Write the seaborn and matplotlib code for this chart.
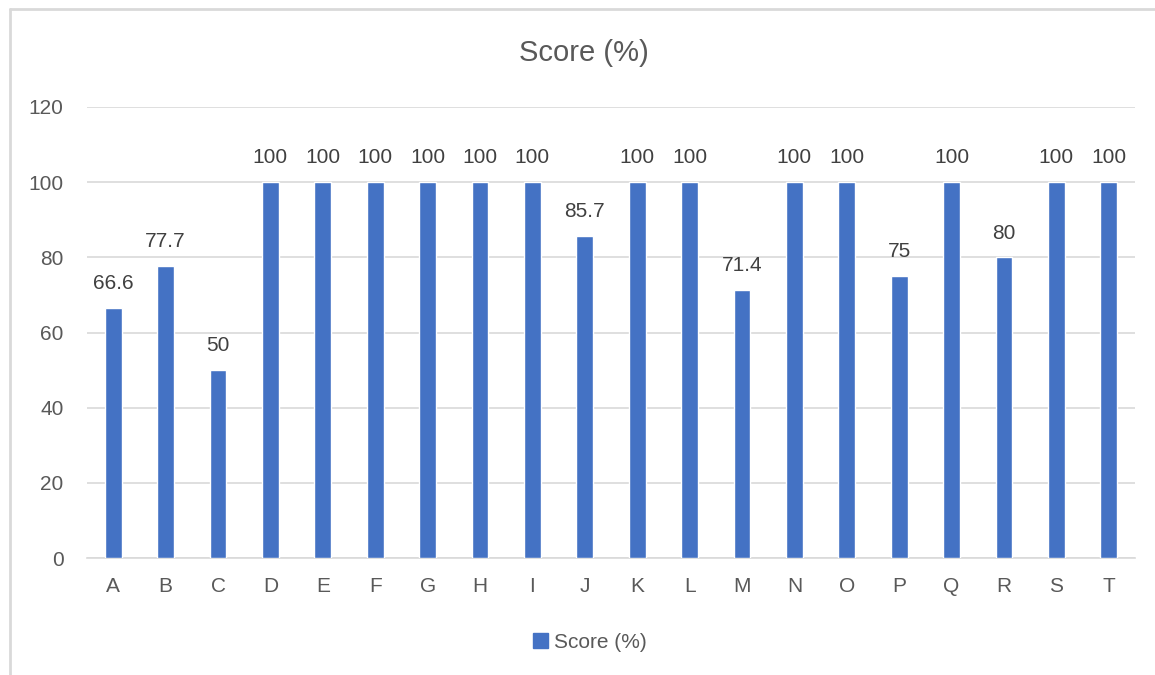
import matplotlib
matplotlib.use("Agg")
import matplotlib.pyplot as plt
import seaborn as sns
import pandas as pd
from matplotlib.lines import Line2D
from matplotlib.patches import Patch

categories = list("ABCDEFGHIJKLMNOPQRST")
scores = [66.6, 77.7, 50, 100, 100, 100, 100, 100, 100, 85.7,
          100, 100, 71.4, 100, 100, 75, 100, 80, 100, 100]
labels = ["66.6", "77.7", "50", "100", "100", "100", "100", "100", "100", "85.7",
          "100", "100", "71.4", "100", "100", "75", "100", "80", "100", "100"]
yticks = [0, 20, 40, 60, 80, 100, 120]
series_name = "Score (%)"

sns.set_theme(style="white")
plt.rcParams['font.family'] = ['Liberation Sans', 'DejaVu Sans']

BAR = "#4472C4"
TXT = "#595959"
GRID = "#D9D9D9"

df = pd.DataFrame({"cat": categories, "score": scores})

fig = plt.figure(figsize=(11.55, 6.75), dpi=100)
ax = fig.add_axes([87/1155, 1-558/675, (1135-87)/1155, (558-107)/675])

sns.barplot(data=df, x="cat", y="score", color=BAR, width=0.32,
            saturation=1, ax=ax, zorder=3)

ax.set_ylim(0, 120)
ax.set_yticks(yticks)
ax.set_xlim(-0.5, len(categories) - 0.5)
ax.grid(axis="y", color=GRID, linewidth=1.2, zorder=0)
ax.set_axisbelow(True)
for s in ["top", "right", "left"]:
    ax.spines[s].set_visible(False)
ax.spines["bottom"].set_color(GRID)
ax.spines["bottom"].set_linewidth(1.2)
ax.tick_params(axis="both", length=0, labelsize=15, labelcolor=TXT)
ax.tick_params(axis="x", pad=14)
ax.tick_params(axis="y", pad=17)
ax.set_xlabel("")
ax.set_ylabel("")

for i, (v, lab) in enumerate(zip(scores, labels)):
    ax.annotate(lab, (i, v), xytext=(0, 13.5), textcoords="offset points",
                ha="center", va="baseline", fontsize=15, color="#404040")

fig.text(584/1155, 1-53/675, series_name, ha="center", va="center",
         fontsize=21, color=TXT)

handle = Patch(facecolor=BAR, edgecolor=BAR)
fig.legend([handle], [series_name], loc="center", bbox_to_anchor=(590/1155, 1-642/675),
           frameon=False, fontsize=15, labelcolor=TXT, handlelength=0.7,
           handleheight=0.7, handletextpad=0.3)

# chart-area border (only top and left edges visible in the reference)
fig.add_artist(Line2D([10/1155, 10/1155], [0, 1-8.5/675], transform=fig.transFigure,
                      color=GRID, linewidth=2))
fig.add_artist(Line2D([10/1155, 1], [1-8.5/675, 1-8.5/675], transform=fig.transFigure,
                      color=GRID, linewidth=2))

fig.savefig("out.png", dpi=100)
